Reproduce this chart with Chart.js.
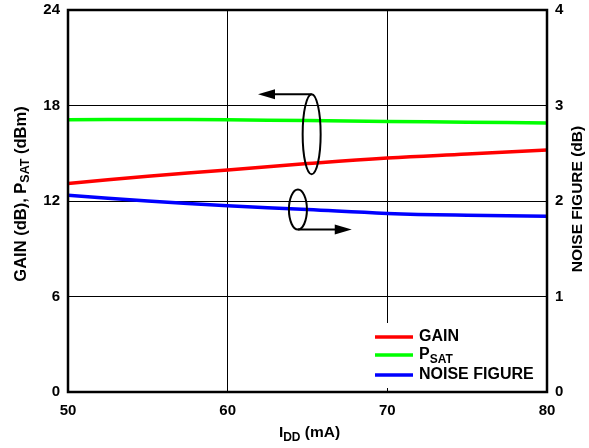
<!DOCTYPE html>
<html>
<head>
<meta charset="utf-8">
<script src="https://cdn.jsdelivr.net/npm/chart.js@4.4.0/dist/chart.umd.min.js"></script>
<style>
  html, body { margin: 0; padding: 0; background: #fff; }
  #wrap { width: 589px; height: 448px; position: relative; }
</style>
</head>
<body>
<div id="wrap"><canvas id="chart"></canvas></div>
<script>
// --- data ---
var currents = [50, 55, 60, 65, 70, 75, 80];           // I_DD (mA)
var gain     = [13.1, 13.55, 13.95, 14.35, 14.7, 14.95, 15.2];   // dB, left axis
var psat     = [17.1, 17.12, 17.1, 17.05, 17.0, 16.95, 16.9];   // dBm, left axis
var noiseFig = [2.06, 2.0, 1.95, 1.91, 1.87, 1.85, 1.84];        // dB, right axis

var xTicks = [50, 60, 70, 80];
var leftTicks = [0, 6, 12, 18, 24];
var rightTicks = [0, 1, 2, 3, 4];

var FONT = '"Liberation Sans", Arial, Helvetica, sans-serif';

function pts(ys) {
  return currents.map(function (x, i) { return { x: x, y: ys[i] }; });
}

// rich text with subscripts, centred on (cx, cy)
function drawRich(ctx, segs, cx, cy, rot, size, subSize) {
  ctx.save();
  ctx.translate(cx, cy);
  ctx.rotate(rot);
  ctx.textBaseline = 'middle';
  ctx.textAlign = 'left';
  ctx.fillStyle = '#000';
  var w = 0;
  segs.forEach(function (s) {
    ctx.font = 'bold ' + (s.sub ? subSize : size) + 'px ' + FONT;
    s.w = ctx.measureText(s.t).width;
    w += s.w;
  });
  var x = -w / 2;
  segs.forEach(function (s) {
    ctx.font = 'bold ' + (s.sub ? subSize : size) + 'px ' + FONT;
    ctx.fillText(s.t, x, s.sub ? size * 0.3 : 0);
    x += s.w;
  });
  ctx.restore();
}

function arrowTo(ctx, x0, y0, x1, y1) {
  var dir = x1 > x0 ? 1 : -1;
  ctx.beginPath();
  ctx.moveTo(x0, y0);
  ctx.lineTo(x1 - dir * 14, y1);
  ctx.stroke();
  ctx.beginPath();
  ctx.moveTo(x1, y1);
  ctx.lineTo(x1 - dir * 17, y1 - 5);
  ctx.lineTo(x1 - dir * 17, y1 + 5);
  ctx.closePath();
  ctx.fill();
}

// annotation anchors in data units (ellipse centres), sizes in px
var axisMarks = {
  left:  { x: 65.26, y: 16.2, rx: 9, ry: 40, tipX: 61.9 },
  right: { x: 64.4, y: 1.91, rx: 9, ry: 20, tipX: 67.77 }
};

var legendItems = [
  { segs: [{ t: 'GAIN' }], color: '#ff0000' },
  { segs: [{ t: 'P' }, { t: 'SAT', sub: true }], color: '#00ff00' },
  { segs: [{ t: 'NOISE FIGURE' }], color: '#0000ff' }
];

var decor = {
  id: 'decor',
  beforeDatasetsDraw: function (chart) {
    // legend backdrop hides the grid behind it
    var ctx = chart.ctx, a = chart.chartArea;
    ctx.save();
    ctx.fillStyle = '#fff';
    ctx.fillRect(368, 323, a.right - 368, 65);
    ctx.restore();
  },
  afterDraw: function (chart) {
    var ctx = chart.ctx, a = chart.chartArea;
    var xs = chart.scales.x, yl = chart.scales.yL, yr = chart.scales.yR;

    // frame
    ctx.save();
    ctx.strokeStyle = '#000';
    ctx.lineWidth = 2.5;
    ctx.strokeRect(a.left, a.top, a.right - a.left, a.bottom - a.top);

    // ellipse + arrow annotations
    ctx.lineWidth = 2;
    ctx.fillStyle = '#000';
    var L = axisMarks.left;
    var lx = xs.getPixelForValue(L.x), ly = yl.getPixelForValue(L.y);
    ctx.beginPath();
    ctx.ellipse(lx, ly, L.rx, L.ry, 0, 0, Math.PI * 2);
    ctx.stroke();
    arrowTo(ctx, lx, ly - L.ry, xs.getPixelForValue(L.tipX), ly - L.ry);

    var R = axisMarks.right;
    var rx = xs.getPixelForValue(R.x), ry = yr.getPixelForValue(R.y);
    ctx.beginPath();
    ctx.ellipse(rx, ry, R.rx, R.ry, 0, 0, Math.PI * 2);
    ctx.stroke();
    arrowTo(ctx, rx, ry + R.ry, xs.getPixelForValue(R.tipX), ry + R.ry);

    // legend
    var rowsY = [337, 355, 375];
    legendItems.forEach(function (it, i) {
      ctx.strokeStyle = it.color;
      ctx.lineWidth = 3.5;
      ctx.beginPath();
      ctx.moveTo(375, rowsY[i]);
      ctx.lineTo(413, rowsY[i]);
      ctx.stroke();
      var w = 0;
      it.segs.forEach(function (s) {
        ctx.font = 'bold ' + (s.sub ? 12 : 16) + 'px ' + FONT;
        w += ctx.measureText(s.t).width;
      });
      drawRich(ctx, it.segs, 419 + w / 2, rowsY[i], 0, 16, 12);
    });
    ctx.restore();

    // axis titles
    drawRich(ctx, [{ t: 'GAIN (dB), P' }, { t: 'SAT', sub: true }, { t: ' (dBm)' }],
      21, 194, -Math.PI / 2, 16.5, 12.5);
    drawRich(ctx, [{ t: 'NOISE FIGURE (dB)' }],
      578, 199, -Math.PI / 2, 15.5, 12);
    drawRich(ctx, [{ t: 'I' }, { t: 'DD', sub: true }, { t: ' (mA)' }],
      (a.left + a.right) / 2 + 2, 433, 0, 15.5, 12);
  }
};

var tickFont = { family: FONT, size: 15, weight: 'bold' };

function fixY(w) {
  return function (s) { s.width = w; s.paddingTop = 0; s.paddingBottom = 0; };
}

new Chart(document.getElementById('chart'), {
  type: 'line',
  data: {
    datasets: [
      { label: 'GAIN', data: pts(gain), yAxisID: 'yL', borderColor: '#ff0000', borderWidth: 3.5 },
      { label: 'PSAT', data: pts(psat), yAxisID: 'yL', borderColor: '#00ff00', borderWidth: 3.5 },
      { label: 'NOISE FIGURE', data: pts(noiseFig), yAxisID: 'yR', borderColor: '#0000ff', borderWidth: 3.5 }
    ]
  },
  options: {
    responsive: true,
    maintainAspectRatio: false,
    animation: false,
    layout: { padding: { top: 10, left: 0, right: 0, bottom: 0 } },
    elements: { point: { radius: 0 }, line: { tension: 0.4, fill: false } },
    plugins: { legend: { display: false }, tooltip: { enabled: false } },
    scales: {
      x: {
        type: 'linear', min: 50, max: 80,
        afterBuildTicks: function (s) { s.ticks = xTicks.map(function (v) { return { value: v }; }); },
        afterFit: function (s) { s.height = 56; s.paddingLeft = 0; s.paddingRight = 0; },
        grid: { color: '#000', lineWidth: 1, drawTicks: false },
        border: { display: false },
        ticks: { color: '#000', font: tickFont, padding: 10, maxRotation: 0 }
      },
      yL: {
        type: 'linear', position: 'left', min: 0, max: 24,
        afterBuildTicks: function (s) { s.ticks = leftTicks.map(function (v) { return { value: v }; }); },
        afterFit: fixY(68),
        grid: { color: '#000', lineWidth: 1, drawTicks: false },
        border: { display: false },
        ticks: { color: '#000', font: tickFont, padding: 8 }
      },
      yR: {
        type: 'linear', position: 'right', min: 0, max: 4,
        afterBuildTicks: function (s) { s.ticks = rightTicks.map(function (v) { return { value: v }; }); },
        afterFit: fixY(42),
        grid: { display: false, drawTicks: false },
        border: { display: false },
        ticks: { color: '#000', font: tickFont, padding: 8 }
      }
    }
  },
  plugins: [decor]
});
</script>
</body>
</html>
